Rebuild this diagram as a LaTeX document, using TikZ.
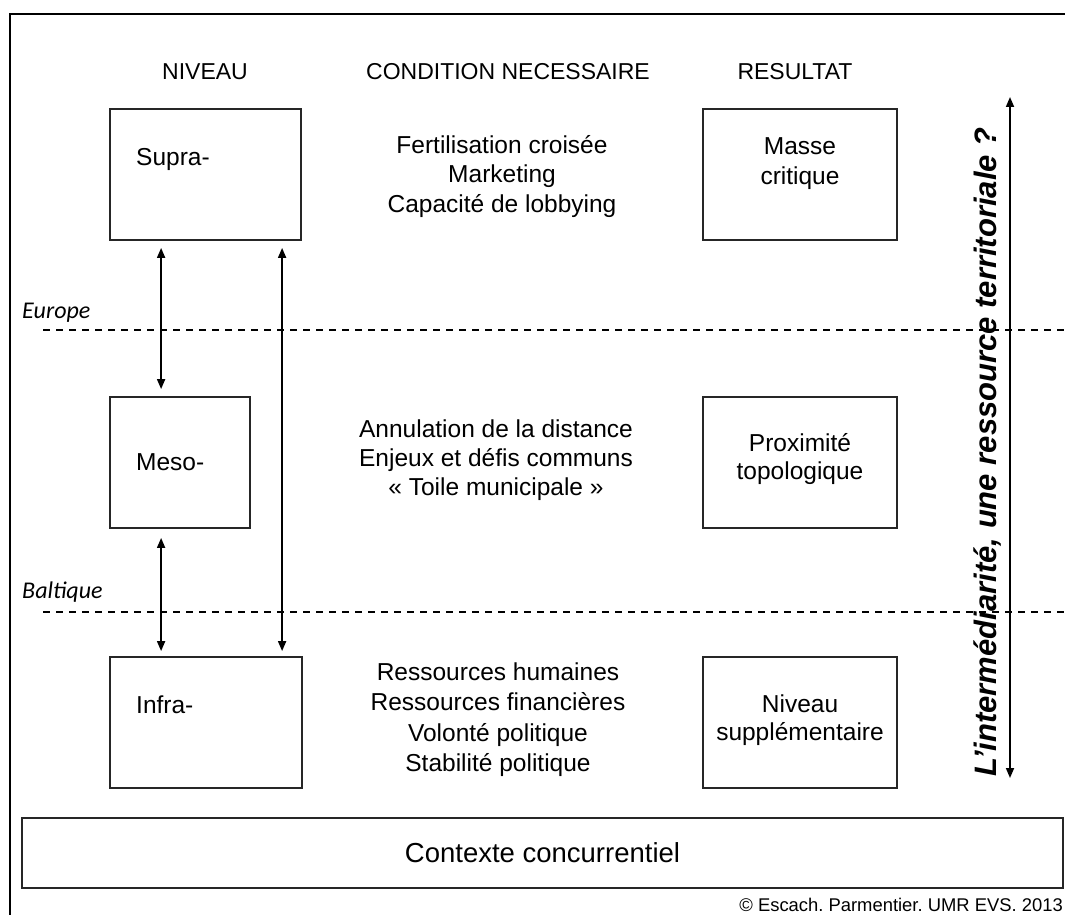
\documentclass[tikz,border=0pt]{standalone}
\usepackage{fontspec}
\setmainfont{Liberation Sans}
\newfontfamily\calib{Carlito}
\usetikzlibrary{arrows.meta}
\frenchspacing
\tikzset{
  box/.style={draw=black!85, line width=1.8pt, minimum width=#1, minimum height=131pt, inner sep=0pt},
  body/.style={inner sep=0pt, align=center, font=\fontsize{24.5}{29.5}\selectfont},
  head/.style={inner sep=0pt, anchor=base, font=\fontsize{23}{27}\selectfont},
  lvl/.style={inner sep=0pt, anchor=base west, font=\fontsize{24.5}{29}\selectfont},
  zone/.style={inner sep=0pt, anchor=base west, font=\calib\itshape\fontsize{24}{28}\selectfont},
  dashline/.style={line width=1.2pt, dash pattern=on 7pt off 6pt},
  link/.style={line width=1.7pt, {Triangle[length=10pt,width=8pt]}-{Triangle[length=10pt,width=8pt]}}
}
\begin{document}
\begin{tikzpicture}[x=1pt,y=-1pt]
\useasboundingbox (0,0) rectangle (1065,915);
\fill[white] (0,0) rectangle (1065,915);
% outer frame
\draw[line width=1.8pt] (10,915) -- (10,14) -- (1065,14);

% headers
\node[head] (hniv) at (205,80) {NIVEAU};
\node[head] (hcond) at (508,80) {CONDITION NECESSAIRE};
\node[head] (hres) at (795,80) {RESULTAT};

% level boxes
\node[box=191pt] (supra) at (205.5,174.5) {};
\node[box=140pt] (meso) at (180,462.5) {};
\node[box=192pt] (infra) at (206,722.5) {};
\node[lvl] (lsupra) at (136,165) {Supra-};
\node[lvl] (lmeso) at (136,470) {Meso-};
\node[lvl] (linfra) at (136,713) {Infra-};

% result boxes
\node[box=194pt] (masse) at (800,174.5) {};
\node[box=194pt] (proxi) at (800,462.5) {};
\node[box=194pt] (nivsup) at (800,722.5) {};
\node[body, font=\fontsize{24.5}{30}\selectfont] (tmasse) at (800,164) {Masse\\critique};
\node[body, font=\fontsize{24.5}{28}\selectfont] (tproxi) at (800,459) {Proximité\\topologique};
\node[body, font=\fontsize{24.5}{28}\selectfont] (tnivsup) at (800,720) {Niveau\\supplémentaire};

% conditions
\node[body] (csupra) at (502,176.5) {Fertilisation croisée\\Marketing\\Capacité de lobbying};
\node[body, font=\fontsize{24.5}{29}\selectfont] (cmeso) at (496,460) {Annulation de la distance\\Enjeux et défis communs\\« Toile municipale »};
\node[body, font=\fontsize{24.5}{30.5}\selectfont] (cinfra) at (498,719.5) {Ressources humaines\\Ressources financières\\Volonté politique\\Stabilité politique};

% dashed separators
\draw[dashline] (43,330) coordinate (eul) -- (1065,330) coordinate (eur);
\draw[dashline] (43,612) coordinate (bal) -- (1065,612) coordinate (bar);
\node[zone] (europe) at (22,318) {Europe};
\node[zone] (baltique) at (22,598) {Baltique};

% level arrows
\draw[link] ([xshift=52pt,yshift=-7pt]supra.south west) -- ([xshift=52pt,yshift=7pt]meso.north west);
\draw[link] ([xshift=52pt,yshift=-9pt]meso.south west) -- ([xshift=52pt,yshift=5pt]infra.north west);
\draw[link] ([xshift=173pt,yshift=-7pt]supra.south west) -- ([xshift=173pt,yshift=5pt]infra.north west);

% vertical axis
\coordinate (vtop) at (1010,97);
\coordinate (vbot) at (1010,778);
\draw[link] (vtop) -- (vbot);
\node[inner sep=0pt, rotate=90, font=\bfseries\itshape\fontsize{31}{36}\selectfont] (vlabel) at (988,452) {L’intermédiarité, une ressource territoriale ?};

% context
\node[draw=black!85, line width=1.8pt, minimum width=1041pt, minimum height=70pt, inner sep=0pt, font=\fontsize{27.5}{32}\selectfont] (ctx) at (542.5,853) {Contexte concurrentiel};

% caption
\node[inner sep=0pt, anchor=base east, font=\fontsize{18.4}{22}\selectfont] (copy) at (1063,911) {© Escach. Parmentier. UMR EVS. 2013};
\end{tikzpicture}
\end{document}
